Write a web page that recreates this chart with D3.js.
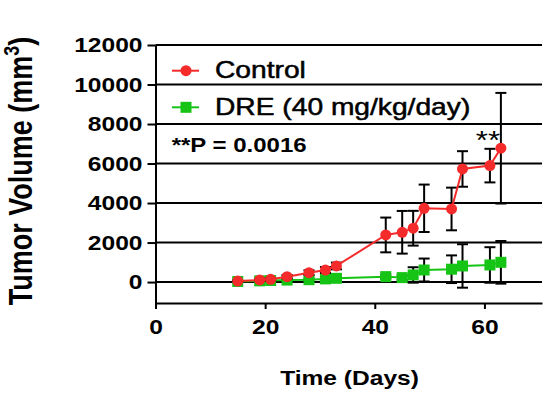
<!DOCTYPE html>
<html>
<head>
<meta charset="utf-8">
<script src="https://cdn.jsdelivr.net/npm/d3@7"></script>
<style>
  body { margin: 0; background: #fff; }
  svg { display: block; font-family: "Liberation Sans", Arial, sans-serif; }
</style>
</head>
<body>
<div id="chart"></div>
<script>
// data
const days = [15, 19, 21, 24, 28, 31, 33, 42, 45, 47, 49, 54, 56, 61, 63];
const controlMean = [50, 105, 140, 270, 475, 610, 815, 2385, 2520, 2725, 3735, 3700, 5725, 5895, 6775];
const controlSD = [30, 50, 60, 90, 120, 150, 170, 880, 1080, 880, 1200, 1080, 900, 850, 2800];
const dreMean = [30, 60, 80, 100, 120, 160, 190, 275, 225, 360, 610, 650, 815, 865, 1000];
const dreSD = [20, 30, 40, 50, 60, 70, 80, 100, 120, 390, 580, 700, 1100, 900, 1080];
const yTicks = [0, 2000, 4000, 6000, 8000, 10000, 12000];
const xTicks = [0, 20, 40, 60];

const width = 550, height = 410;
const sx = 1.2; // picture is stretched sideways

const svg = d3.select("#chart").append("svg")
  .attr("width", width)
  .attr("height", height);

const x = d3.scaleLinear().domain([0, 70.5]).range([155.5, 542]);
const y = d3.scaleLinear().domain([-1060, 12000]).range([303, 45]);

// grid lines
svg.append("g")
  .selectAll("line")
  .data(yTicks)
  .enter().append("line")
    .attr("x1", x(0)).attr("x2", x(70.5))
    .attr("y1", d => y(d)).attr("y2", d => y(d))
    .attr("stroke", "#000")
    .attr("stroke-width", 2);

// y axis
const yAxis = svg.append("g")
  .attr("transform", "translate(" + x(0) + ",0)")
  .call(d3.axisLeft(y).tickValues(yTicks).tickFormat(d3.format("d")).tickSize(8).tickSizeOuter(0));
yAxis.selectAll("path, line").attr("stroke", "#000").attr("stroke-width", 2);
yAxis.selectAll("text")
  .attr("x", 0)
  .attr("transform", "translate(-13,0) scale(" + sx + ",1)")
  .style("font-size", "20.5px")
  .style("font-weight", "bold")
  .style("fill", "#000");

// x axis
const xAxis = svg.append("g")
  .attr("transform", "translate(0," + y(-1060) + ")")
  .call(d3.axisBottom(x).tickValues(xTicks).tickFormat(d3.format("d")).tickSize(6).tickSizeOuter(0));
xAxis.selectAll("path, line").attr("stroke", "#000").attr("stroke-width", 2);
xAxis.selectAll("text")
  .attr("y", 16)
  .attr("transform", "scale(" + sx + ",1)")
  .style("font-size", "20.5px")
  .style("font-weight", "bold")
  .style("fill", "#000");

// series
function drawSeries(means, sds, color, shape) {
  const g = svg.append("g");
  const pts = days.map((d, i) => ({ day: d, m: means[i], sd: sds[i] }));

  // error bars
  const eb = g.selectAll(".eb").data(pts).enter().append("g")
    .attr("stroke", "#000").attr("stroke-width", 2);
  eb.append("line")
    .attr("x1", d => x(d.day)).attr("x2", d => x(d.day))
    .attr("y1", d => y(d.m + d.sd)).attr("y2", d => y(d.m - d.sd));
  eb.append("line")
    .attr("x1", d => x(d.day) - 5.5).attr("x2", d => x(d.day) + 5.5)
    .attr("y1", d => y(d.m + d.sd)).attr("y2", d => y(d.m + d.sd));
  eb.append("line")
    .attr("x1", d => x(d.day) - 5.5).attr("x2", d => x(d.day) + 5.5)
    .attr("y1", d => y(d.m - d.sd)).attr("y2", d => y(d.m - d.sd));

  g.append("path")
    .datum(pts)
    .attr("fill", "none")
    .attr("stroke", color)
    .attr("stroke-width", 2)
    .attr("d", d3.line().x(d => x(d.day)).y(d => y(d.m)));

  if (shape === "circle") {
    g.selectAll(".pt").data(pts).enter().append("circle")
      .attr("cx", d => x(d.day)).attr("cy", d => y(d.m))
      .attr("r", 5.5).attr("fill", color);
  } else {
    g.selectAll(".pt").data(pts).enter().append("rect")
      .attr("x", d => x(d.day) - 5.5).attr("y", d => y(d.m) - 5.5)
      .attr("width", 11).attr("height", 11).attr("fill", color);
  }
}

const red = "#f52a2a", green = "#16c416";
drawSeries(dreMean, dreSD, green, "square");
drawSeries(controlMean, controlSD, red, "circle");

// significance stars over last point
svg.append("text")
  .attr("transform", "translate(" + (x(63) - 13) + ",149) scale(" + sx + ",1)")
  .attr("text-anchor", "middle")
  .style("font-size", "26px")
  .text("**");

// legend
const legend = [
  { label: "Control", color: red, shape: "circle", ly: 70.7, ty: 78 },
  { label: "DRE (40 mg/kg/day)", color: green, shape: "square", ly: 107.3, ty: 115 }
];
legend.forEach(l => {
  svg.append("line")
    .attr("x1", 172).attr("x2", 199).attr("y1", l.ly).attr("y2", l.ly)
    .attr("stroke", l.color).attr("stroke-width", 2);
  if (l.shape === "circle") {
    svg.append("circle").attr("cx", 186).attr("cy", l.ly).attr("r", 5.5).attr("fill", l.color);
  } else {
    svg.append("rect").attr("x", 180.5).attr("y", l.ly - 5.5).attr("width", 11).attr("height", 11).attr("fill", l.color);
  }
  svg.append("text")
    .attr("transform", "translate(215," + l.ty + ") scale(" + sx + ",1)")
    .style("font-size", "23.5px")
    .style("stroke", "#000").style("stroke-width", 0.5)
    .text(l.label);
});

svg.append("text")
  .attr("transform", "translate(171.7,152.3) scale(" + sx + ",1)")
  .style("font-size", "20px")
  .style("font-weight", "bold")
  .text("**P = 0.0016");

// axis titles
svg.append("text")
  .attr("transform", "translate(349.5,385) scale(1.17,1)")
  .attr("text-anchor", "middle")
  .style("font-size", "21px")
  .style("font-weight", "bold")
  .text("Time (Days)");

const yt = svg.append("text")
  .attr("transform", "translate(32,171) rotate(-90) scale(1," + sx + ")")
  .attr("text-anchor", "middle")
  .style("font-size", "27px")
  .style("font-weight", "bold");
yt.append("tspan").text("Tumor Volume (mm");
yt.append("tspan").attr("dy", -11).style("font-size", "18px").text("3");
yt.append("tspan").attr("dy", 11).text(")");
</script>
</body>
</html>
